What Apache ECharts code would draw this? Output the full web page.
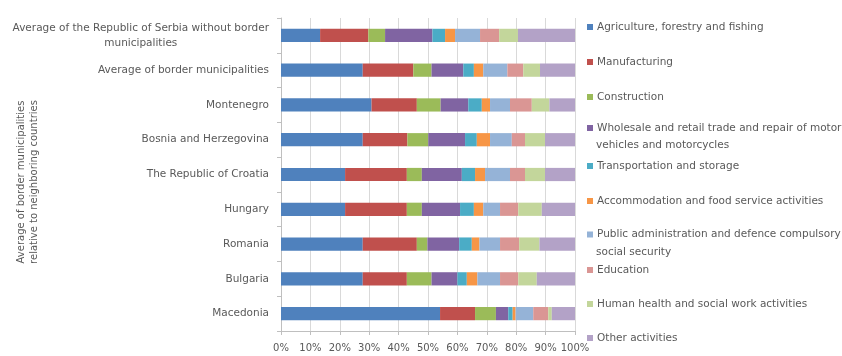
<!DOCTYPE html>
<html>
<head>
<meta charset="utf-8">
<script src="https://cdn.jsdelivr.net/npm/echarts@6/dist/echarts.min.js"></script>
<style>
  html, body { margin: 0; padding: 0; background: #fff; }
  #main { width: 842px; height: 356px; }
</style>
</head>
<body>
<div id="main"></div>
<script>
// categories, top to bottom
var categories = [
    'Average of the Republic of Serbia without border\nmunicipalities',
    'Average of border municipalities',
    'Montenegro',
    'Bosnia and Herzegovina',
    'The Republic of Croatia',
    'Hungary',
    'Romania',
    'Bulgaria',
    'Macedonia'
];

var sectors = [
    'Agriculture, forestry and fishing',
    'Manufacturing',
    'Construction',
    'Wholesale and retail trade and repair of motor\nvehicles and motorcycles',
    'Transportation and storage',
    'Accommodation and food service activities',
    'Public administration and defence compulsory\nsocial security',
    'Education',
    'Human health and social work activities',
    'Other activities'
];

var colors = ['#4F81BD', '#C0504D', '#9BBB59', '#8064A2', '#4BACC6', '#F79646', '#95B3D7', '#DA9694', '#C3D69B', '#B3A2C7'];

// share (%) per sector, same order as categories
var agriculture    = [13.3, 27.8, 30.8, 27.8, 21.8, 21.8, 27.8, 27.8, 54.1];
var manufacturing  = [16.4, 17.2, 15.4, 15.2, 21.0, 21.0, 18.4, 15.0, 11.9];
var construction   = [5.7, 6.2, 8.1, 7.1, 5.1, 5.1, 3.6, 8.4, 7.1];
var trade          = [16.1, 10.8, 9.4, 12.5, 13.6, 13.0, 10.8, 8.8, 4.2];
var transport      = [4.3, 3.6, 4.6, 4.0, 4.5, 4.7, 4.3, 3.2, 1.5];
var accommodation  = [3.4, 3.2, 2.8, 4.5, 3.4, 3.2, 2.6, 3.6, 1.0];
var publicAdmin    = [8.5, 8.2, 6.8, 7.4, 8.5, 5.7, 7.0, 7.7, 6.0];
var education      = [6.5, 5.4, 7.4, 4.5, 5.1, 6.2, 6.5, 6.2, 5.1];
var health         = [6.4, 5.7, 6.0, 6.8, 6.8, 8.0, 6.9, 6.3, 1.2];
var other          = [19.4, 11.9, 8.7, 10.2, 10.2, 11.3, 12.1, 13.0, 7.9];

var values = [agriculture, manufacturing, construction, trade, transport, accommodation, publicAdmin, education, health, other];

// legend item tops (px)
var legendTops = [18.5, 53.5, 88.5, 119.5, 157.5, 192.5, 226, 261.5, 295.5, 329.5];

var textColor = '#595959';
var font = 'DejaVu Sans, sans-serif';

var series = sectors.map(function (name, i) {
    return {
        name: name,
        type: 'bar',
        stack: 'total',
        barWidth: '38%',
        itemStyle: { color: colors[i] },
        data: values[i]
    };
});

// legend shows the first line next to the marker, wrapped rest goes below as plain text
var legends = sectors.map(function (name, i) {
    return {
        data: [name],
        left: 587,
        top: legendTops[i],
        width: 255,
        padding: 0,
        icon: 'rect',
        itemWidth: 6,
        itemHeight: 6,
        itemGap: 4,
        formatter: function (n) { return n.split('\n')[0]; },
        textStyle: { color: textColor, fontSize: 10.5, fontFamily: font, lineHeight: 17, padding: [0, 0, 0, -1] }
    };
});

var wrapLines = [];
sectors.forEach(function (name, i) {
    var parts = name.split('\n');
    if (parts.length > 1) {
        wrapLines.push({
            type: 'text',
            x: 596,
            y: legendTops[i] + 8.5 + 17.5,
            style: {
                text: parts[1],
                fill: textColor,
                fontSize: 10.5,
                fontFamily: font,
                verticalAlign: 'middle'
            }
        });
    }
});

var chart = echarts.init(document.getElementById('main'));
chart.setOption({
    animation: false,
    backgroundColor: '#fff',
    textStyle: { fontFamily: font },
    grid: { left: 281, right: 267, top: 18, bottom: 25 },
    legend: legends,
    xAxis: {
        type: 'value',
        min: 0,
        max: 100,
        interval: 10,
        axisLine: { show: true, lineStyle: { color: '#BFBFBF' } },
        axisTick: { show: true, length: 4, lineStyle: { color: '#BFBFBF' } },
        splitLine: { show: true, lineStyle: { color: '#D9D9D9' } },
        axisLabel: { formatter: '{value}%', color: textColor, fontSize: 10, margin: 12, fontFamily: font }
    },
    yAxis: {
        type: 'category',
        inverse: true,
        data: categories,
        axisLine: { show: true, lineStyle: { color: '#BFBFBF' } },
        axisTick: { show: true, length: 4, lineStyle: { color: '#BFBFBF' } },
        splitLine: { show: false },
        axisLabel: {
            color: textColor,
            fontSize: 10.5,
            margin: 12,
            fontFamily: font,
            lineHeight: 15,
            formatter: function (v) {
                return v.split('\n').map(function (s) { return '{c|' + s + '}'; }).join('\n');
            },
            rich: { c: { align: 'center', color: textColor, fontSize: 10.5, lineHeight: 15, fontFamily: font } }
        }
    },
    graphic: [
        {
            type: 'text',
            x: 28,
            y: 182,
            rotation: Math.PI / 2,
            style: {
                text: 'Average of border municipalities\nrelative to neighboring countries',
                fill: textColor,
                fontSize: 10,
                lineHeight: 13,
                fontFamily: font,
                align: 'center',
                verticalAlign: 'middle'
            }
        }
    ].concat(wrapLines),
    series: series
});
</script>
</body>
</html>
